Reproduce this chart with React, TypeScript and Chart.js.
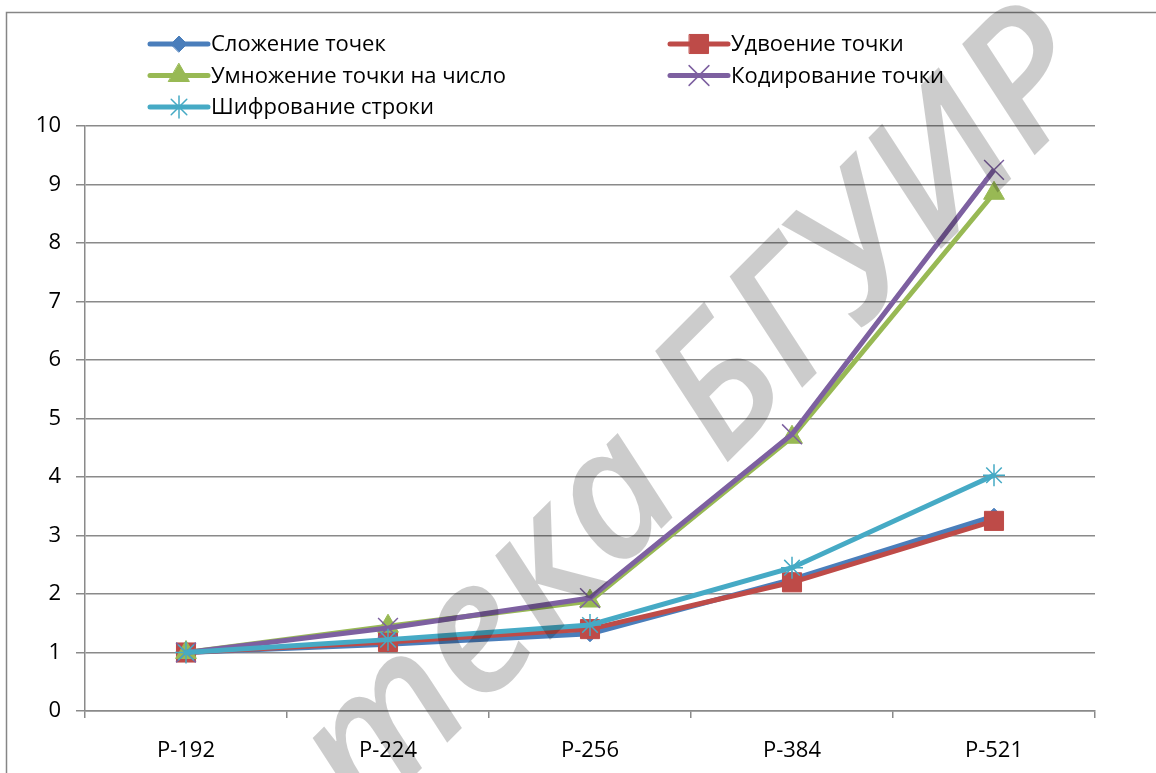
import React, { useEffect, useRef } from 'react';
import { Chart, registerables } from 'chart.js';
import { drawPoint } from 'chart.js/helpers';

Chart.register(...registerables);

// ---- data ----
const categories = ['P-192', 'P-224', 'P-256', 'P-384', 'P-521'];
const seriesNames = [
  'Сложение точек',
  'Удвоение точки',
  'Умножение точки на число',
  'Кодирование точки',
  'Шифрование строки',
];
const additionValues = [1, 1.14, 1.32, 2.25, 3.33];
const doublingValues = [1, 1.18, 1.4, 2.2, 3.25];
const multiplicationValues = [1, 1.45, 1.88, 4.68, 8.85];
const encodingValues = [1, 1.42, 1.93, 4.73, 9.25];
const encryptionValues = [1, 1.22, 1.47, 2.45, 4.03];
const yMin = 0;
const yMax = 10;
const yStep = 1;
const watermarkText = 'Библиотека БГУИР';

// ---- styles ----
const FONT = "'Open Sans', 'Noto Sans', sans-serif";
const GRID = '#8a8a8a';
const colors = ['#4a7ebb', '#be4b48', '#98b954', '#7d60a0', '#46aac5'];
const markers = [
  { pointStyle: 'rectRot', radius: 8, borderWidth: 1 },
  { pointStyle: 'rect', radius: 13.5, borderWidth: 1 },
  { pointStyle: 'triangle', radius: 12, borderWidth: 1 },
  { pointStyle: 'crossRot', radius: 14, borderWidth: 1.5 },
  { pointStyle: 'star', radius: 11, borderWidth: 1.5 },
];
const drawOrder = [4, 3, 2, 1, 0];
const legendSlots = [
  { x: 150, y: 44 },
  { x: 670, y: 44 },
  { x: 150, y: 75.5 },
  { x: 670, y: 75.5 },
  { x: 150, y: 107 },
];

const frameAndLegendPlugin = {
  id: 'frameAndLegend',
  afterDraw(chart: any) {
    const ctx = chart.ctx as CanvasRenderingContext2D;
    ctx.save();
    // outer frame
    ctx.strokeStyle = '#868686';
    ctx.lineWidth = 1.5;
    ctx.strokeRect(6.5, 12.5, 1300, 900);
    // legend
    const lineLen = 58;
    chart.data.datasets.forEach((ds: any, i: number) => {
      const slot = legendSlots[i];
      ctx.strokeStyle = ds.borderColor;
      ctx.lineWidth = ds.borderWidth;
      ctx.lineCap = 'round';
      ctx.beginPath();
      ctx.moveTo(slot.x, slot.y);
      ctx.lineTo(slot.x + lineLen, slot.y);
      ctx.stroke();
      ctx.fillStyle = ds.pointBackgroundColor;
      ctx.strokeStyle = ds.pointBorderColor;
      ctx.lineWidth = ds.pointBorderWidth;
      drawPoint(ctx, {
        pointStyle: ds.pointStyle,
        radius: ds.pointRadius,
        rotation: 0,
        borderWidth: ds.pointBorderWidth,
      } as any, slot.x + lineLen / 2, slot.y);
      ctx.fillStyle = '#000';
      ctx.font = `22px ${FONT}`;
      ctx.textAlign = 'left';
      ctx.textBaseline = 'middle';
      ctx.fillText(ds.label, slot.x + lineLen + 3, slot.y + 1);
    });
    ctx.restore();
  },
};

const watermarkPlugin = {
  id: 'watermark',
  afterDraw(chart: any) {
    const ctx = chart.ctx as CanvasRenderingContext2D;
    ctx.save();
    let size = 160;
    const fontOf = (s: number) => `italic 600 ${s}px ${FONT}`;
    ctx.font = fontOf(size);
    const span =
      ctx.measureText('т').width / 2 +
      ctx.measureText('ека БГУИ').width +
      ctx.measureText('Р').width / 2;
    size = size * (914 / span);
    ctx.font = fontOf(size);
    const before = ctx.measureText('Библиотека БГУИ').width;
    const lastW = ctx.measureText('Р').width;
    ctx.translate(1022, 76);
    ctx.rotate(-Math.PI / 4);
    ctx.fillStyle = 'rgba(0,0,0,0.2)';
    ctx.textAlign = 'left';
    ctx.textBaseline = 'alphabetic';
    ctx.fillText(watermarkText, -(before + lastW / 2), size * 0.357);
    ctx.restore();
  },
};

export default function App() {
  const canvasRef = useRef<HTMLCanvasElement | null>(null);

  useEffect(() => {
    document.body.style.margin = '0';
    const canvas = canvasRef.current;
    if (!canvas) return;
    const values = [additionValues, doublingValues, multiplicationValues, encodingValues, encryptionValues];
    const datasets = values.map((data, i) => ({
      label: seriesNames[i],
      data,
      borderColor: colors[i],
      backgroundColor: colors[i],
      borderWidth: 5,
      pointStyle: markers[i].pointStyle,
      pointRadius: markers[i].radius,
      pointHoverRadius: markers[i].radius,
      pointBorderWidth: markers[i].borderWidth,
      pointBackgroundColor: colors[i],
      pointBorderColor: colors[i],
      tension: 0,
      order: drawOrder[i],
      clip: false as any,
    }));
    const chart = new Chart(canvas, {
      type: 'line',
      data: { labels: categories, datasets: datasets as any },
      options: {
        animation: false,
        responsive: false,
        devicePixelRatio: 1,
        layout: { padding: { top: 126, right: 61, bottom: 0, left: 0 } },
        plugins: {
          legend: { display: false },
          tooltip: { enabled: false },
          title: { display: false },
        },
        scales: {
          x: {
            type: 'category',
            offset: true,
            grid: {
              display: true,
              drawOnChartArea: false,
              drawTicks: true,
              tickLength: 7,
              offset: true,
              color: GRID,
              lineWidth: 1.5,
            },
            border: { display: true, color: GRID, width: 1.5 },
            ticks: {
              color: '#000',
              font: { family: FONT, size: 22 },
              padding: 20,
              maxRotation: 0,
              autoSkip: false,
            },
            afterFit: (s: any) => {
              s.height = 62;
            },
          },
          y: {
            min: yMin,
            max: yMax,
            ticks: {
              stepSize: yStep,
              color: '#000',
              font: { family: FONT, size: 22 },
              padding: 15,
            },
            grid: {
              color: GRID,
              lineWidth: 1.5,
              tickLength: 9,
              drawTicks: true,
            },
            border: { display: true, color: GRID, width: 1.5 },
            afterFit: (s: any) => {
              s.width = 85;
            },
          },
        },
      },
      plugins: [frameAndLegendPlugin, watermarkPlugin],
    });
    return () => chart.destroy();
  }, []);

  return (
    <canvas
      ref={canvasRef}
      width={1156}
      height={773}
      style={{ display: 'block', width: '1156px', height: '773px' }}
    />
  );
}
